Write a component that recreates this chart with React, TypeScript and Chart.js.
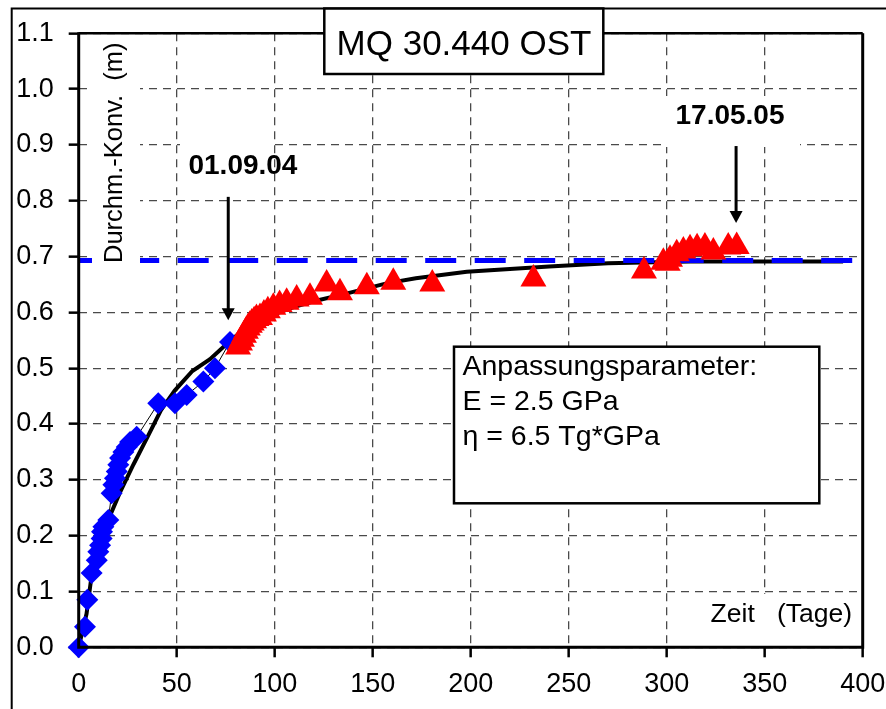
import React, { useEffect, useRef } from "react";
import { Chart, registerables } from "chart.js";
Chart.register(...registerables);

const FONT = '"Liberation Sans", Arial, Helvetica, sans-serif';

// ---- data ----
const measuredX = [0, 3.2, 4.4, 6.6, 9.2, 10, 10.9, 11.7, 11.9, 12.6, 15.1, 16.8, 17.7, 18.5, 19.4, 20.2, 21.1, 22.8, 24.5, 26.2, 29.6, 40.6, 49.1, 55.1, 63.6, 69.5, 77.2];
const measuredY = [0, 0.037, 0.085, 0.133, 0.156, 0.171, 0.183, 0.195, 0.207, 0.216, 0.228, 0.276, 0.291, 0.303, 0.315, 0.327, 0.339, 0.35, 0.359, 0.368, 0.377, 0.437, 0.437, 0.452, 0.476, 0.5, 0.547];

const laterX = [81.3, 82.3, 83.3, 84.3, 85.3, 86.3, 87.3, 88.3, 89.5, 90.7, 92.5, 94.5, 96.5, 99.3, 102.5, 106.1, 111.2, 118, 126.5, 133.3, 147, 160.5, 180.4, 232, 288.4, 298.3, 300.5, 301.7, 305.1, 308.5, 311.9, 315.5, 319.5, 323.8, 331.4, 335.7];
const laterY = [0.538, 0.545, 0.552, 0.559, 0.566, 0.572, 0.577, 0.581, 0.585, 0.589, 0.591, 0.597, 0.603, 0.609, 0.614, 0.618, 0.624, 0.627, 0.651, 0.635, 0.646, 0.654, 0.651, 0.66, 0.674, 0.69, 0.688, 0.695, 0.705, 0.71, 0.714, 0.716, 0.717, 0.708, 0.717, 0.718];

const curveX = [0, 2, 4, 7.4, 10.9, 16, 21, 28, 35, 42, 49, 58, 67, 76, 85, 92, 100, 110, 120, 137, 157, 172, 198, 240, 270, 312, 390];
const curveY = [0, 0.03, 0.06, 0.15, 0.198, 0.236, 0.277, 0.328, 0.376, 0.425, 0.46, 0.495, 0.516, 0.545, 0.572, 0.587, 0.597, 0.61, 0.62, 0.634, 0.652, 0.661, 0.673, 0.682, 0.688, 0.691, 0.691];

const levelX = [0, 400];
const levelY = [0.693, 0.693];

const chartTitle = "MQ 30.440 OST";
const yAxisTitle = "Durchm.-Konv.  (m)";
const xAxisTitle = "Zeit   (Tage)";
const paramLines = ["Anpassungsparameter:", "E = 2.5 GPa", "η = 6.5 Tg*GPa"];

const markerLabels = ["01.09.04", "17.05.05"];
const markerDay = [76.3, 335.4];
const markerFrom = [0.807, 0.898];
const markerTo = [0.586, 0.76];
const markerLabelDay = [83.8, 332.3];
const markerLabelY = [0.862, 0.952];

const xMin = 0, xMax = 400, xStep = 50;
const yMin = 0, yMax = 1.1, yStep = 0.1;

const pts = (xs: number[], ys: number[]) => xs.map((x, i) => ({ x, y: ys[i] }));

const overlay = {
  id: "overlay",
  afterDatasetsDraw(chart: any) {
    const { ctx, chartArea: a, scales } = chart;
    const sx = scales.x, sy = scales.y;
    ctx.save();
    ctx.fillStyle = "#fff";
    // masks behind text labels
    ctx.fillRect(92, a.top + 1.5, 48, 234);
    ctx.fillRect(180, 140, 93, 50);
    ctx.fillRect(664, 96, 136, 51);
    ctx.fillRect(690, 594, a.right - 691.5, a.bottom - 595.5);

    // plot frame
    ctx.strokeStyle = "#000";
    ctx.lineWidth = 2.5;
    ctx.beginPath();
    ctx.moveTo(a.left, a.top);
    ctx.lineTo(a.right, a.top);
    ctx.stroke();
    ctx.lineWidth = 3;
    ctx.beginPath();
    ctx.moveTo(a.right, a.top);
    ctx.lineTo(a.right, a.bottom);
    ctx.moveTo(a.left, a.top - 1);
    ctx.lineTo(a.left, a.bottom + 1.5);
    ctx.moveTo(a.left, a.bottom);
    ctx.lineTo(a.right + 1.5, a.bottom);
    ctx.stroke();

    // outer frame
    ctx.lineWidth = 2;
    ctx.beginPath();
    ctx.moveTo(11.7, 720);
    ctx.lineTo(11.7, 8.5);
    ctx.lineTo(900, 8.5);
    ctx.stroke();

    // y title
    ctx.fillStyle = "#000";
    ctx.save();
    ctx.translate(121.5, 263);
    ctx.rotate(-Math.PI / 2);
    ctx.font = `25.5px ${FONT}`;
    ctx.textAlign = "left";
    ctx.textBaseline = "alphabetic";
    ctx.fillText(yAxisTitle, 0, 0);
    ctx.restore();

    // x title
    ctx.font = `26.5px ${FONT}`;
    ctx.textAlign = "right";
    ctx.textBaseline = "alphabetic";
    ctx.fillText(xAxisTitle, 852, 622);

    // markers with arrows
    for (let i = 0; i < markerLabels.length; i++) {
      const px = sx.getPixelForValue(markerDay[i]);
      const p1 = sy.getPixelForValue(markerFrom[i]);
      const p2 = sy.getPixelForValue(markerTo[i]);
      ctx.strokeStyle = "#000";
      ctx.lineWidth = 3;
      ctx.beginPath();
      ctx.moveTo(px, p1);
      ctx.lineTo(px, p2 - 10);
      ctx.stroke();
      ctx.beginPath();
      ctx.moveTo(px - 6.5, p2 - 12);
      ctx.lineTo(px + 6.5, p2 - 12);
      ctx.lineTo(px, p2);
      ctx.closePath();
      ctx.fill();
      ctx.font = `bold 28px ${FONT}`;
      ctx.textAlign = "center";
      ctx.textBaseline = "middle";
      ctx.fillText(markerLabels[i], sx.getPixelForValue(markerLabelDay[i]), sy.getPixelForValue(markerLabelY[i]));
    }

    // parameter box
    ctx.fillStyle = "#fff";
    ctx.fillRect(454, 346.7, 365.3, 156.6);
    ctx.lineWidth = 2.5;
    ctx.strokeRect(454, 346.7, 365.3, 156.6);
    ctx.fillStyle = "#000";
    ctx.font = `28.5px ${FONT}`;
    ctx.textAlign = "left";
    ctx.textBaseline = "alphabetic";
    paramLines.forEach((t, i) => ctx.fillText(t, 462.5, 375 + i * 35));

    // title box
    ctx.fillStyle = "#fff";
    ctx.fillRect(324.3, 8.5, 279, 65.5);
    ctx.lineWidth = 2.5;
    ctx.strokeRect(324.3, 8.5, 279, 65.5);
    ctx.fillStyle = "#000";
    ctx.font = `35px ${FONT}`;
    ctx.textAlign = "center";
    ctx.fillText(chartTitle, 464, 55);
    ctx.restore();
  },
};

export default function App() {
  const ref = useRef<HTMLCanvasElement | null>(null);
  useEffect(() => {
    if (!ref.current) return;
    const gridCommon = {
      color: "#4a4a4a",
      lineWidth: 1.3,
      tickColor: "#000",
      tickWidth: 2.5,
      tickLength: 10,
      tickBorderDash: [],
    };
    const chart = new Chart(ref.current, {
      type: "scatter",
      data: {
        datasets: [
          {
            label: "later",
            data: pts(laterX, laterY),
            pointStyle: "triangle",
            pointRadius: 15,
            pointBackgroundColor: "#ff0000",
            pointBorderColor: "#ff0000",
            pointBorderWidth: 0,
            showLine: false,
            order: 0,
            clip: false,
          } as any,
          {
            label: "measured",
            data: pts(measuredX, measuredY),
            pointStyle: "rectRot",
            pointRadius: 11,
            pointBackgroundColor: "#0000ff",
            pointBorderColor: "#0000ff",
            pointBorderWidth: 0,
            showLine: true,
            borderColor: "#000",
            borderWidth: 1,
            order: 1,
            clip: false,
          } as any,
          {
            label: "level",
            data: pts(levelX, levelY),
            showLine: true,
            borderColor: "#0000ff",
            borderWidth: 5,
            borderDash: [31, 18.5],
            pointRadius: 0,
            order: 2,
          } as any,
          {
            label: "model",
            data: pts(curveX, curveY),
            showLine: true,
            borderColor: "#000",
            borderWidth: 4,
            pointRadius: 0,
            tension: 0,
            order: 3,
          } as any,
        ],
      },
      options: {
        animation: false,
        responsive: false,
        devicePixelRatio: 1,
        events: [],
        layout: { padding: { top: 33.3, right: 23.3, left: 0, bottom: 0 } },
        plugins: { legend: { display: false }, tooltip: { enabled: false }, title: { display: false } },
        scales: {
          x: {
            type: "linear",
            min: xMin,
            max: xMax,
            ticks: { stepSize: xStep, color: "#000", font: { family: FONT, size: 27 }, padding: 11, maxRotation: 0 },
            grid: gridCommon,
            border: { display: false, dash: [8, 6] },
            afterFit: (s: any) => { s.height = 61.7; s.paddingLeft = 0; s.paddingRight = 0; },
          },
          y: {
            type: "linear",
            min: yMin,
            max: yMax,
            ticks: {
              stepSize: yStep,
              color: "#000",
              font: { family: FONT, size: 27 },
              padding: 15,
              callback: (v: any) => Number(v).toFixed(1),
            },
            grid: gridCommon,
            border: { display: false, dash: [8, 6] },
            afterFit: (s: any) => { s.width = 78.7; s.paddingTop = 0; s.paddingBottom = 0; },
          },
        },
      } as any,
      plugins: [overlay],
    });
    return () => chart.destroy();
  }, []);
  return (
    <div style={{ position: "fixed", left: 0, top: 0, width: 886, height: 709, background: "#fff" }}>
      <canvas ref={ref} width={886} height={709} style={{ display: "block", width: 886, height: 709 }} />
    </div>
  );
}
